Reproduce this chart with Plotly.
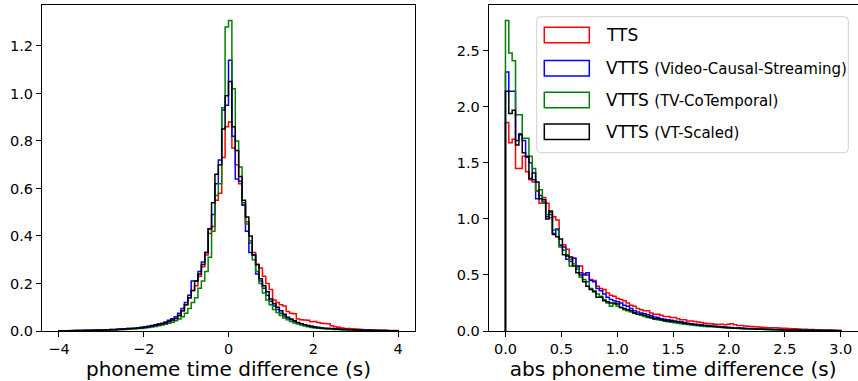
import numpy as np
import plotly.graph_objects as go

# ---------------- data (density per bin) ----------------
LEFT_RANGE = (-4.0, 4.0)
RIGHT_RANGE = (0.0, 3.0)
N_BINS = 100

series_names = ["TTS", "VTTS", "VTTS", "VTTS"]
series_sub = ["", "(Video-Causal-Streaming)", "(TV-CoTemporal)", "(VT-Scaled)"]
series_colors = ["red", "blue", "green", "black"]

left_tts = [
    0.001,0.001,0.001,0.002,0.002,0.002,0.002,0.003,0.003,0.003,
    0.003,0.004,0.004,0.005,0.005,0.006,0.006,0.007,0.008,0.009,
    0.010,0.011,0.012,0.013,0.015,0.017,0.019,0.022,0.025,0.028,
    0.031,0.035,0.040,0.046,0.053,0.065,0.085,0.11,0.14,0.17,
    0.19,0.23,0.27,0.32,0.41,0.44,0.55,0.58,0.73,0.86,
    0.88,0.77,0.70,0.62,0.53,0.46,0.37,0.33,0.28,0.265,
    0.23,0.20,0.175,0.13,0.12,0.11,0.105,0.082,0.075,0.073,
    0.050,0.047,0.046,0.045,0.039,0.040,0.036,0.033,0.032,0.030,
    0.022,0.018,0.016,0.013,0.011,0.010,0.009,0.008,0.007,0.006,
    0.005,0.005,0.004,0.004,0.003,0.003,0.003,0.002,0.002,0.002]
left_vcs = [
    0.001,0.001,0.001,0.001,0.002,0.002,0.002,0.002,0.003,0.003,
    0.003,0.004,0.004,0.005,0.005,0.006,0.006,0.007,0.008,0.009,
    0.010,0.011,0.012,0.014,0.016,0.018,0.020,0.023,0.026,0.029,
    0.033,0.038,0.045,0.052,0.060,0.075,0.095,0.12,0.15,0.21,
    0.21,0.25,0.29,0.33,0.43,0.49,0.62,0.72,0.93,0.95,
    1.14,0.82,0.64,0.63,0.53,0.42,0.33,0.32,0.24,0.21,
    0.18,0.15,0.125,0.105,0.09,0.075,0.063,0.055,0.047,0.040,
    0.034,0.030,0.026,0.023,0.020,0.018,0.016,0.014,0.012,0.011,
    0.010,0.009,0.008,0.007,0.006,0.006,0.005,0.005,0.004,0.004,
    0.003,0.003,0.003,0.002,0.002,0.002,0.002,0.001,0.001,0.001]
left_tvc = [
    0.001,0.001,0.001,0.001,0.001,0.001,0.001,0.002,0.002,0.002,
    0.002,0.002,0.003,0.003,0.003,0.004,0.004,0.005,0.005,0.006,
    0.007,0.008,0.009,0.010,0.011,0.013,0.015,0.017,0.019,0.022,
    0.025,0.028,0.033,0.037,0.043,0.050,0.060,0.075,0.095,0.12,
    0.14,0.18,0.21,0.25,0.31,0.42,0.57,0.62,0.94,1.28,
    1.307,1.02,0.80,0.69,0.54,0.45,0.38,0.30,0.25,0.20,
    0.16,0.13,0.11,0.09,0.078,0.065,0.055,0.047,0.040,0.034,
    0.029,0.025,0.021,0.018,0.015,0.013,0.012,0.010,0.009,0.008,
    0.007,0.006,0.006,0.005,0.005,0.004,0.004,0.003,0.003,0.003,
    0.002,0.002,0.002,0.002,0.001,0.001,0.001,0.001,0.001,0.001]
left_vts = [
    0.001,0.001,0.001,0.001,0.001,0.002,0.002,0.002,0.002,0.002,
    0.003,0.003,0.003,0.004,0.004,0.005,0.005,0.006,0.007,0.008,
    0.009,0.010,0.011,0.012,0.014,0.016,0.018,0.021,0.024,0.027,
    0.030,0.034,0.040,0.046,0.053,0.065,0.085,0.11,0.14,0.17,
    0.21,0.24,0.28,0.33,0.43,0.54,0.66,0.70,0.85,0.99,
    1.05,0.86,0.76,0.65,0.55,0.48,0.40,0.32,0.28,0.22,
    0.19,0.165,0.135,0.115,0.10,0.085,0.07,0.058,0.05,0.043,
    0.036,0.031,0.026,0.022,0.019,0.016,0.014,0.012,0.011,0.010,
    0.009,0.008,0.007,0.006,0.006,0.005,0.005,0.004,0.004,0.003,
    0.003,0.003,0.002,0.002,0.002,0.002,0.001,0.001,0.001,0.001]

right_tts = [
    1.86,1.68,1.71,1.45,1.45,1.56,1.42,1.35,1.33,1.25,
    1.14,1.19,1.14,1.01,1.02,0.99,0.77,0.77,0.73,0.64,
    0.65,0.57,0.58,0.51,0.50,0.46,0.45,0.40,0.38,0.37,
    0.34,0.32,0.31,0.29,0.28,0.27,0.25,0.23,0.22,0.20,
    0.19,0.18,0.18,0.16,0.15,0.15,0.14,0.13,0.13,0.12,
    0.12,0.11,0.10,0.10,0.09,0.09,0.085,0.08,0.075,0.07,
    0.068,0.065,0.06,0.058,0.06,0.055,0.06,0.065,0.055,0.05,
    0.048,0.045,0.042,0.04,0.038,0.036,0.034,0.032,0.03,0.03,
    0.028,0.026,0.025,0.024,0.022,0.02,0.02,0.018,0.016,0.015,
    0.014,0.013,0.012,0.011,0.01,0.009,0.008,0.007,0.006,0.006]
right_vcs = [
    2.31,2.14,2.14,1.70,1.76,1.70,1.55,1.50,1.35,1.18,
    1.21,1.15,1.02,1.04,0.87,0.91,0.76,0.75,0.64,0.62,
    0.65,0.58,0.52,0.50,0.52,0.45,0.44,0.38,0.36,0.33,
    0.30,0.28,0.27,0.26,0.25,0.23,0.22,0.20,0.18,0.17,
    0.16,0.155,0.145,0.135,0.125,0.12,0.11,0.105,0.10,0.095,
    0.09,0.085,0.08,0.075,0.07,0.065,0.06,0.058,0.055,0.05,
    0.048,0.045,0.042,0.04,0.037,0.035,0.033,0.031,0.03,0.028,
    0.026,0.025,0.023,0.022,0.02,0.019,0.018,0.017,0.016,0.015,
    0.014,0.013,0.012,0.012,0.011,0.01,0.01,0.009,0.008,0.008,
    0.007,0.007,0.006,0.006,0.005,0.005,0.004,0.004,0.004,0.003]
right_tvc = [
    2.77,2.48,2.41,1.93,1.93,1.72,1.72,1.56,1.45,1.25,
    1.26,1.14,1.04,1.06,0.90,0.90,0.75,0.72,0.68,0.58,
    0.60,0.55,0.48,0.46,0.44,0.38,0.36,0.33,0.31,0.28,
    0.25,0.22,0.24,0.22,0.21,0.19,0.18,0.17,0.16,0.15,
    0.14,0.13,0.12,0.115,0.105,0.10,0.095,0.088,0.082,0.078,
    0.074,0.07,0.065,0.06,0.057,0.053,0.05,0.047,0.044,0.041,
    0.039,0.037,0.035,0.033,0.031,0.029,0.027,0.026,0.025,0.023,
    0.022,0.021,0.02,0.019,0.018,0.017,0.016,0.015,0.014,0.013,
    0.012,0.011,0.011,0.01,0.01,0.009,0.009,0.008,0.008,0.007,
    0.007,0.006,0.006,0.005,0.005,0.005,0.004,0.004,0.003,0.003]
right_vts = [
    2.14,1.94,1.97,1.66,1.75,1.59,1.56,1.36,1.41,1.33,
    1.18,1.17,1.00,1.07,0.86,0.84,0.82,0.68,0.67,0.66,
    0.58,0.52,0.50,0.44,0.40,0.37,0.35,0.30,0.30,0.27,
    0.26,0.25,0.25,0.24,0.21,0.20,0.19,0.18,0.16,0.15,
    0.15,0.14,0.13,0.12,0.11,0.11,0.10,0.095,0.09,0.088,
    0.085,0.08,0.075,0.07,0.065,0.06,0.058,0.055,0.05,0.048,
    0.045,0.042,0.04,0.037,0.035,0.032,0.03,0.027,0.025,0.024,
    0.022,0.021,0.02,0.018,0.017,0.016,0.015,0.014,0.013,0.012,
    0.011,0.011,0.010,0.010,0.009,0.009,0.008,0.008,0.007,0.007,
    0.006,0.006,0.005,0.005,0.005,0.004,0.004,0.004,0.003,0.003]

left_series = [left_tts, left_vcs, left_tvc, left_vts]
right_series = [right_tts, right_vcs, right_tvc, right_vts]

left_xticks = [-4, -2, 0, 2, 4]
left_yticks = [0.0, 0.2, 0.4, 0.6, 0.8, 1.0, 1.2]
right_xticks = [0.0, 0.5, 1.0, 1.5, 2.0, 2.5, 3.0]
right_yticks = [0.0, 0.5, 1.0, 1.5, 2.0, 2.5]

# ---------------- figure ----------------
W, H = 858, 381
FONT = "DejaVu Sans"


def step_path(vals, lo, hi):
    edges = np.linspace(lo, hi, len(vals) + 1)
    xs = [edges[0]] + list(edges[:-1]) + [edges[-1], edges[-1]]
    ys = [0.0] + list(vals) + [vals[-1], 0.0]
    return xs, ys


fig = go.Figure()
for vals, col in zip(left_series, series_colors):
    xs, ys = step_path(vals, *LEFT_RANGE)
    fig.add_trace(go.Scatter(x=xs, y=ys, mode="lines", line=dict(color=col, width=1.5, shape="hv"),
                             xaxis="x", yaxis="y", showlegend=False, hoverinfo="skip"))
for vals, col in zip(right_series, series_colors):
    xs, ys = step_path(vals, *RIGHT_RANGE)
    fig.add_trace(go.Scatter(x=xs, y=ys, mode="lines", line=dict(color=col, width=1.5, shape="hv"),
                             xaxis="x2", yaxis="y2", showlegend=False, hoverinfo="skip"))

def px_x(p):
    return p / W

def px_y(p):
    return 1 - p / H

ydom = [px_y(331), px_y(5)]
axis_common = dict(showline=True, linecolor="black", linewidth=1, mirror=True, ticks="outside",
                   ticklen=5, tickwidth=1, tickcolor="black", showgrid=False, zeroline=False,
                   automargin=False,
                   tickfont=dict(family=FONT, size=14.5, color="black"))

lmax = max(max(s) for s in left_series) * 1.05
rmax = max(max(s) for s in right_series) * 1.05

fig.update_layout(
    width=W, height=H, margin=dict(l=0, r=0, t=0, b=0),
    paper_bgcolor="white", plot_bgcolor="white",
    xaxis=dict(domain=[px_x(42), px_x(415)], range=[-4.4, 4.4], tickvals=left_xticks,
               title=dict(text="phoneme time difference (s)", font=dict(family=FONT, size=20, color="black"), standoff=4),
               anchor="y", **axis_common),
    yaxis=dict(domain=ydom, range=[0, lmax], tickvals=left_yticks, tickformat=".1f", anchor="x", **axis_common),
    xaxis2=dict(domain=[px_x(488.7), px_x(857.5)], range=[-0.15, 3.15], tickvals=right_xticks, tickformat=".1f",
                title=dict(text="abs phoneme time difference (s)", font=dict(family=FONT, size=20, color="black"), standoff=4),
                anchor="y2", **axis_common),
    yaxis2=dict(domain=ydom, range=[0, rmax], tickvals=right_yticks, tickformat=".1f", anchor="x2", **axis_common),
)

# ---------------- legend (drawn manually to mimic matplotlib) ----------------
lx0, lx1, ly0, ly1 = 536.7, 848.3, 16.7, 152.7
r = 4
path = (f"M {px_x(lx0 + r)} {px_y(ly0)} L {px_x(lx1 - r)} {px_y(ly0)} "
        f"Q {px_x(lx1)} {px_y(ly0)} {px_x(lx1)} {px_y(ly0 + r)} "
        f"L {px_x(lx1)} {px_y(ly1 - r)} Q {px_x(lx1)} {px_y(ly1)} {px_x(lx1 - r)} {px_y(ly1)} "
        f"L {px_x(lx0 + r)} {px_y(ly1)} Q {px_x(lx0)} {px_y(ly1)} {px_x(lx0)} {px_y(ly1 - r)} "
        f"L {px_x(lx0)} {px_y(ly0 + r)} Q {px_x(lx0)} {px_y(ly0)} {px_x(lx0 + r)} {px_y(ly0)} Z")
fig.add_shape(type="path", path=path, xref="paper", yref="paper",
              line=dict(color="#d0d0d0", width=1), fillcolor="rgba(255,255,255,0.8)", layer="above")

row_y = [35, 68.3, 100, 131.7]
for name, sub, col, ry in zip(series_names, series_sub, series_colors, row_y):
    fig.add_shape(type="rect", xref="paper", yref="paper",
                  x0=px_x(544.3), x1=px_x(589.3), y0=px_y(ry - 7.8), y1=px_y(ry + 7.8),
                  line=dict(color=col, width=1.5), fillcolor="rgba(0,0,0,0)", layer="above")
    txt = name if not sub else f"{name} <span style='font-size:15px'>{sub}</span>"
    fig.add_annotation(x=px_x(604), y=px_y(ry), xref="paper", yref="paper", text=txt,
                       showarrow=False, xanchor="left", yanchor="middle",
                       font=dict(family=FONT, size=17, color="black"))

fig.write_html("out.html", config={"displayModeBar": False},
               post_script="document.body.style.margin='0';document.body.style.padding='0';"
                           "document.body.style.overflow='hidden';")
